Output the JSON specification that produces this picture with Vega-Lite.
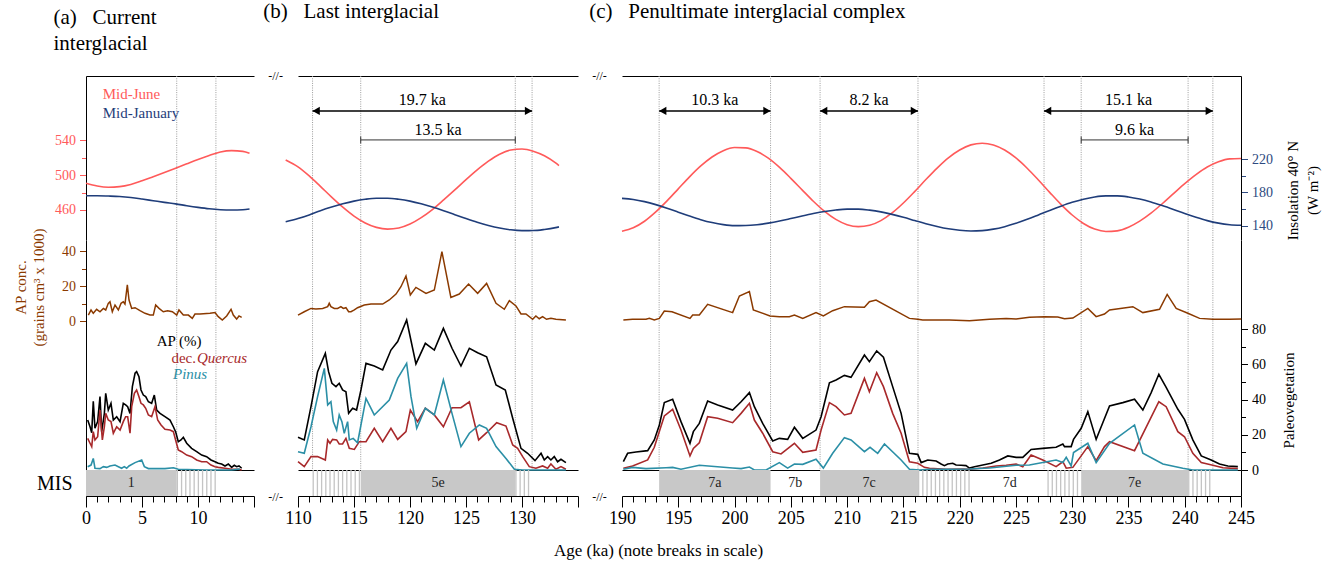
{
"$schema":"https://vega.github.io/schema/vega-lite/v6.json",
"background":"white",
"padding":{"left":13,"top":1,"right":5,"bottom":5},
"config":{"font":"Liberation Serif","view":{"stroke":null},
 "axis":{"grid":false,"domainColor":"#000","domainWidth":1,"tickColor":"#000","tickWidth":1,"labelColor":"#000","titleColor":"#000","labelFont":"Liberation Serif","titleFont":"Liberation Serif","titleFontWeight":"normal"},
 "title":{"font":"Liberation Serif","fontWeight":"normal","color":"#000"},
 "text":{"font":"Liberation Serif","color":"#000"}},
"title":{"text":"Age (ka) (note breaks in scale)","orient":"bottom","anchor":"middle","frame":"bounds","fontSize":17,"offset":16,"dx":-8},
"datasets":{
"bounds":[{"panel":"a","age":8.1},{"panel":"a","age":11.6},{"panel":"b","age":111.3},{"panel":"b","age":115.6},{"panel":"b","age":129.4},{"panel":"b","age":130.9},{"panel":"c","age":193.3},{"panel":"c","age":203.2},{"panel":"c","age":207.6},{"panel":"c","age":216.3},{"panel":"c","age":227.5},{"panel":"c","age":230.8},{"panel":"c","age":240.3},{"panel":"c","age":242.5}],
"arrows":[{"panel":"b","kind":"arrow","age":111.3,"end":130.9,"mid":121.1,"label":"19.7 ka"},{"panel":"b","kind":"bar","age":115.6,"end":129.4,"mid":122.5,"label":"13.5 ka"},{"panel":"c","kind":"arrow","age":193.3,"end":203.2,"mid":198.25,"label":"10.3 ka"},{"panel":"c","kind":"arrow","age":207.6,"end":216.3,"mid":211.95,"label":"8.2 ka"},{"panel":"c","kind":"arrow","age":227.5,"end":242.5,"mid":235.0,"label":"15.1 ka"},{"panel":"c","kind":"bar","age":230.8,"end":240.3,"mid":235.55,"label":"9.6 ka"}],
"mis":[{"panel":"a","kind":"stage","age":0,"end":8.1,"mid":4.05,"label":"1"},{"panel":"a","kind":"hatch","age":8.1,"end":11.6,"mid":9.85,"label":""},
{"panel":"b","kind":"hatch","age":111.3,"end":115.6,"mid":113.45,"label":""},{"panel":"b","kind":"stage","age":115.6,"end":129.4,"mid":122.5,"label":"5e"},{"panel":"b","kind":"hatch","age":129.4,"end":130.9,"mid":130.15,"label":""},
{"panel":"c","kind":"stage","age":193.3,"end":203.2,"mid":198.25,"label":"7a"},{"panel":"c","kind":"white","age":203.2,"end":207.6,"mid":205.4,"label":"7b"},{"panel":"c","kind":"stage","age":207.6,"end":216.3,"mid":211.95,"label":"7c"},{"panel":"c","kind":"hatch","age":216.3,"end":221.1,"mid":218.7,"label":""},{"panel":"c","kind":"white","age":221.1,"end":227.8,"mid":224.45,"label":"7d"},{"panel":"c","kind":"hatch","age":227.8,"end":230.6,"mid":229.2,"label":""},{"panel":"c","kind":"stage","age":230.8,"end":240.3,"mid":235.55,"label":"7e"},{"panel":"c","kind":"hatch","age":240.3,"end":242.5,"mid":241.4,"label":""}],
"insol":[
{"panel":"a","age":0,"june":490.6,"jan":176.0},{"panel":"a","age":1,"june":487.5,"jan":176.0},{"panel":"a","age":2,"june":486.1,"jan":175.6},{"panel":"a","age":3,"june":486.8,"jan":175.0},{"panel":"a","age":4,"june":489.3,"jan":173.8},{"panel":"a","age":5,"june":493.5,"jan":172.0},{"panel":"a","age":6,"june":498.2,"jan":170.0},{"panel":"a","age":7,"june":503.0,"jan":168.0},{"panel":"a","age":8,"june":507.9,"jan":166.2},{"panel":"a","age":9,"june":513.0,"jan":164.0},{"panel":"a","age":10,"june":518.0,"jan":162.0},{"panel":"a","age":11,"june":522.5,"jan":160.3},{"panel":"a","age":12,"june":526.5,"jan":159.2},{"panel":"a","age":13,"june":528.1,"jan":158.8},{"panel":"a","age":14,"june":527.3,"jan":159.2},{"panel":"a","age":14.6,"june":525.1,"jan":160.0},
{"panel":"b","age":108.9,"june":517.4,"jan":144.8},{"panel":"b","age":110,"june":509.5,"jan":148.6},{"panel":"b","age":111,"june":499.1,"jan":153.0},{"panel":"b","age":112,"june":487.1,"jan":158.0},{"panel":"b","age":113,"june":474.8,"jan":162.4},{"panel":"b","age":114,"june":463.2,"jan":166.3},{"panel":"b","age":115,"june":453.0,"jan":169.5},{"panel":"b","age":116,"june":445.1,"jan":171.7},{"panel":"b","age":117,"june":440.0,"jan":172.9},{"panel":"b","age":118,"june":438.0,"jan":172.9},{"panel":"b","age":119,"june":439.3,"jan":171.7},{"panel":"b","age":120,"june":443.8,"jan":169.5},{"panel":"b","age":121,"june":451.2,"jan":166.3},{"panel":"b","age":122,"june":460.5,"jan":162.4},{"panel":"b","age":123,"june":471.5,"jan":158.0},{"panel":"b","age":124,"june":483.0,"jan":153.3},{"panel":"b","age":125,"june":494.8,"jan":148.6},{"panel":"b","age":126,"june":506.0,"jan":144.2},{"panel":"b","age":127,"june":516.0,"jan":140.4},{"panel":"b","age":128,"june":524.0,"jan":137.3},{"panel":"b","age":129,"june":528.8,"jan":135.1},{"panel":"b","age":130,"june":529.9,"jan":134.1},{"panel":"b","age":131,"june":527.5,"jan":134.2},{"panel":"b","age":132,"june":522.2,"jan":135.5},{"panel":"b","age":133,"june":514.0,"jan":137.7},{"panel":"b","age":133.3,"june":511.0,"jan":138.6},
{"panel":"c","age":190,"june":435.5,"jan":172.8},{"panel":"c","age":191,"june":439.5,"jan":171.5},{"panel":"c","age":192,"june":447.0,"jan":168.9},{"panel":"c","age":193,"june":457.7,"jan":165.3},{"panel":"c","age":194,"june":470.4,"jan":161.0},{"panel":"c","age":195,"june":484.2,"jan":156.3},{"panel":"c","age":196,"june":498.0,"jan":151.6},{"panel":"c","age":197,"june":510.5,"jan":147.3},{"panel":"c","age":198,"june":520.8,"jan":143.8},{"panel":"c","age":199,"june":528.1,"jan":141.3},{"panel":"c","age":200,"june":531.7,"jan":140.1},{"panel":"c","age":201,"june":531.3,"jan":140.2},{"panel":"c","age":202,"june":527.1,"jan":141.2},{"panel":"c","age":203,"june":519.4,"jan":143.1},{"panel":"c","age":204,"june":508.8,"jan":145.6},{"panel":"c","age":205,"june":496.3,"jan":148.6},{"panel":"c","age":206,"june":483.1,"jan":151.7},{"panel":"c","age":207,"june":470.0,"jan":154.6},{"panel":"c","age":208,"june":458.4,"jan":157.1},{"panel":"c","age":209,"june":449.2,"jan":158.9},{"panel":"c","age":210,"june":443.1,"jan":159.9},{"panel":"c","age":211,"june":440.8,"jan":159.9},{"panel":"c","age":212,"june":442.4,"jan":158.7},{"panel":"c","age":213,"june":447.8,"jan":156.6},{"panel":"c","age":214,"june":456.6,"jan":153.6},{"panel":"c","age":215,"june":468.0,"jan":150.1},{"panel":"c","age":216,"june":481.1,"jan":146.3},{"panel":"c","age":217,"june":494.9,"jan":142.5},{"panel":"c","age":218,"june":508.1,"jan":139.1},{"panel":"c","age":219,"june":519.8,"jan":136.3},{"panel":"c","age":220,"june":528.8,"jan":134.5},{"panel":"c","age":221,"june":534.7,"jan":133.7},{"panel":"c","age":222,"june":536.6,"jan":134.1},{"panel":"c","age":223,"june":534.6,"jan":135.9},{"panel":"c","age":224,"june":528.8,"jan":138.9},{"panel":"c","age":225,"june":519.7,"jan":142.9},{"panel":"c","age":226,"june":507.9,"jan":147.7},{"panel":"c","age":227,"june":494.4,"jan":153.0},{"panel":"c","age":228,"june":480.2,"jan":158.4},{"panel":"c","age":229,"june":466.4,"jan":163.5},{"panel":"c","age":230,"june":454.2,"jan":168.1},{"panel":"c","age":231,"june":444.5,"jan":171.8},{"panel":"c","age":232,"june":438.0,"jan":174.5},{"panel":"c","age":233,"june":435.2,"jan":175.8},{"panel":"c","age":234,"june":436.0,"jan":175.8},{"panel":"c","age":235,"june":440.1,"jan":174.5},{"panel":"c","age":236,"june":447.1,"jan":172.0},{"panel":"c","age":237,"june":456.3,"jan":168.5},{"panel":"c","age":238,"june":467.1,"jan":164.2},{"panel":"c","age":239,"june":478.7,"jan":159.5},{"panel":"c","age":240,"june":490.2,"jan":154.6},{"panel":"c","age":241,"june":500.6,"jan":150.1},{"panel":"c","age":242,"june":509.3,"jan":146.1},{"panel":"c","age":243,"june":515.3,"jan":143.1},{"panel":"c","age":244,"june":518.6,"jan":141.2},{"panel":"c","age":245,"june":519.0,"jan":140.5}],
"conc":[
{"panel":"a","age":0.21,"conc":3.4},{"panel":"a","age":0.45,"conc":6.3},{"panel":"a","age":0.65,"conc":4.4},{"panel":"a","age":0.95,"conc":6.7},{"panel":"a","age":1.25,"conc":5.3},{"panel":"a","age":1.55,"conc":7.2},{"panel":"a","age":1.76,"conc":6.3},{"panel":"a","age":1.99,"conc":10.1},{"panel":"a","age":2.14,"conc":11.0},{"panel":"a","age":2.35,"conc":5.3},{"panel":"a","age":2.59,"conc":9.1},{"panel":"a","age":2.89,"conc":6.3},{"panel":"a","age":3.13,"conc":10.1},{"panel":"a","age":3.33,"conc":11.0},{"panel":"a","age":3.48,"conc":9.7},{"panel":"a","age":3.69,"conc":20.6},{"panel":"a","age":3.84,"conc":12.0},{"panel":"a","age":4.08,"conc":7.2},{"panel":"a","age":4.38,"conc":7.6},{"panel":"a","age":4.82,"conc":5.9},{"panel":"a","age":5.27,"conc":4.4},{"panel":"a","age":5.71,"conc":3.4},{"panel":"a","age":6.01,"conc":3.4},{"panel":"a","age":6.22,"conc":9.1},{"panel":"a","age":6.52,"conc":7.2},{"panel":"a","age":6.9,"conc":5.3},{"panel":"a","age":7.29,"conc":5.9},{"panel":"a","age":7.71,"conc":5.3},{"panel":"a","age":8.1,"conc":3.4},{"panel":"a","age":8.3,"conc":6.3},{"panel":"a","age":8.69,"conc":3.4},{"panel":"a","age":9.14,"conc":3.4},{"panel":"a","age":9.49,"conc":1.5},{"panel":"a","age":9.73,"conc":4.0},{"panel":"a","age":10.18,"conc":4.0},{"panel":"a","age":11.07,"conc":4.4},{"panel":"a","age":11.52,"conc":4.8},{"panel":"a","age":11.81,"conc":2.5},{"panel":"a","age":12.17,"conc":0.6},{"panel":"a","age":12.56,"conc":2.9},{"panel":"a","age":12.95,"conc":6.7},{"panel":"a","age":13.15,"conc":3.4},{"panel":"a","age":13.45,"conc":1.1},{"panel":"a","age":13.66,"conc":2.9},{"panel":"a","age":13.9,"conc":2.1},
{"panel":"b","age":110.0,"conc":3.4},{"panel":"b","age":110.56,"conc":5.3},{"panel":"b","age":111.16,"conc":7.2},{"panel":"b","age":111.6,"conc":6.9},{"panel":"b","age":112.2,"conc":7.2},{"panel":"b","age":112.65,"conc":8.2},{"panel":"b","age":112.79,"conc":10.1},{"panel":"b","age":112.94,"conc":8.2},{"panel":"b","age":113.24,"conc":7.2},{"panel":"b","age":113.54,"conc":7.2},{"panel":"b","age":113.83,"conc":8.2},{"panel":"b","age":114.04,"conc":7.2},{"panel":"b","age":114.28,"conc":7.6},{"panel":"b","age":114.52,"conc":5.3},{"panel":"b","age":114.73,"conc":5.3},{"panel":"b","age":115.03,"conc":6.3},{"panel":"b","age":115.32,"conc":7.6},{"panel":"b","age":115.92,"conc":9.1},{"panel":"b","age":116.52,"conc":9.7},{"panel":"b","age":117.56,"conc":9.7},{"panel":"b","age":118.15,"conc":12.0},{"panel":"b","age":118.75,"conc":15.4},{"panel":"b","age":119.19,"conc":19.6},{"panel":"b","age":119.64,"conc":25.7},{"panel":"b","age":120.03,"conc":14.9},{"panel":"b","age":120.53,"conc":19.2},{"panel":"b","age":121.43,"conc":15.8},{"panel":"b","age":122.17,"conc":17.7},{"panel":"b","age":122.85,"conc":39.6},{"panel":"b","age":123.65,"conc":13.5},{"panel":"b","age":124.4,"conc":15.4},{"panel":"b","age":125.23,"conc":21.1},{"panel":"b","age":126.04,"conc":15.8},{"panel":"b","age":126.84,"conc":21.5},{"panel":"b","age":127.68,"conc":10.1},{"panel":"b","age":128.42,"conc":6.7},{"panel":"b","age":128.87,"conc":11.6},{"panel":"b","age":129.46,"conc":8.6},{"panel":"b","age":129.91,"conc":4.0},{"panel":"b","age":130.35,"conc":4.0},{"panel":"b","age":130.95,"conc":1.0},{"panel":"b","age":131.24,"conc":2.9},{"panel":"b","age":131.54,"conc":1.3},{"panel":"b","age":131.84,"conc":2.5},{"panel":"b","age":132.19,"conc":1.0},{"panel":"b","age":132.58,"conc":1.5},{"panel":"b","age":133.03,"conc":1.0},{"panel":"b","age":133.92,"conc":0.6},
{"panel":"c","age":190.12,"conc":0.6},{"panel":"c","age":190.94,"conc":1.0},{"panel":"c","age":192.13,"conc":1.0},{"panel":"c","age":192.43,"conc":1.5},{"panel":"c","age":192.87,"conc":0.6},{"panel":"c","age":193.32,"conc":1.5},{"panel":"c","age":193.76,"conc":5.7},{"panel":"c","age":194.44,"conc":5.3},{"panel":"c","age":196.04,"conc":1.5},{"panel":"c","age":196.28,"conc":3.4},{"panel":"c","age":196.87,"conc":3.4},{"panel":"c","age":197.61,"conc":9.5},{"panel":"c","age":199.83,"conc":4.8},{"panel":"c","age":200.43,"conc":14.3},{"panel":"c","age":201.32,"conc":16.8},{"panel":"c","age":201.67,"conc":6.3},{"panel":"c","age":203.15,"conc":2.9},{"panel":"c","age":203.98,"conc":2.5},{"panel":"c","age":204.87,"conc":2.5},{"panel":"c","age":205.32,"conc":3.4},{"panel":"c","age":206.06,"conc":1.5},{"panel":"c","age":207.24,"conc":4.8},{"panel":"c","age":207.89,"conc":2.9},{"panel":"c","age":208.72,"conc":5.9},{"panel":"c","age":209.76,"conc":8.2},{"panel":"c","age":211.54,"conc":7.8},{"panel":"c","age":211.98,"conc":11.0},{"panel":"c","age":212.57,"conc":12.0},{"panel":"c","age":215.54,"conc":1.5},{"panel":"c","age":216.28,"conc":1.0},{"panel":"c","age":216.72,"conc":0.6},{"panel":"c","age":217.61,"conc":0.6},{"panel":"c","age":219.09,"conc":0.6},{"panel":"c","age":220.87,"conc":0.2},{"panel":"c","age":222.65,"conc":1.0},{"panel":"c","age":224.13,"conc":1.5},{"panel":"c","age":225.02,"conc":1.1},{"panel":"c","age":226.2,"conc":2.1},{"panel":"c","age":227.54,"conc":2.5},{"panel":"c","age":228.72,"conc":2.3},{"panel":"c","age":229.32,"conc":1.3},{"panel":"c","age":230.06,"conc":1.7},{"panel":"c","age":231.39,"conc":7.2},{"panel":"c","age":232.13,"conc":2.5},{"panel":"c","age":232.87,"conc":4.0},{"panel":"c","age":233.32,"conc":6.3},{"panel":"c","age":235.39,"conc":8.2},{"panel":"c","age":236.28,"conc":4.8},{"panel":"c","age":237.76,"conc":6.7},{"panel":"c","age":238.44,"conc":15.2},{"panel":"c","age":239.24,"conc":7.2},{"panel":"c","age":240.28,"conc":4.4},{"panel":"c","age":241.32,"conc":1.5},{"panel":"c","age":242.5,"conc":1.0},{"panel":"c","age":243.98,"conc":1.0},{"panel":"c","age":245.02,"conc":1.1}],
"veg":[
{"panel":"a","taxon":"AP","age":0.15,"pct":28.4},{"panel":"a","taxon":"AP","age":0.36,"pct":24.6},{"panel":"a","taxon":"AP","age":0.51,"pct":21.2},{"panel":"a","taxon":"AP","age":0.65,"pct":39.0},{"panel":"a","taxon":"AP","age":0.8,"pct":23.7},{"panel":"a","taxon":"AP","age":1.04,"pct":27.5},{"panel":"a","taxon":"AP","age":1.25,"pct":41.7},{"panel":"a","taxon":"AP","age":1.4,"pct":21.8},{"panel":"a","taxon":"AP","age":1.64,"pct":32.2},{"panel":"a","taxon":"AP","age":1.76,"pct":43.6},{"panel":"a","taxon":"AP","age":1.99,"pct":34.1},{"panel":"a","taxon":"AP","age":2.23,"pct":37.9},{"panel":"a","taxon":"AP","age":2.44,"pct":28.4},{"panel":"a","taxon":"AP","age":2.74,"pct":30.3},{"panel":"a","taxon":"AP","age":3.04,"pct":27.5},{"panel":"a","taxon":"AP","age":3.33,"pct":37.9},{"panel":"a","taxon":"AP","age":3.54,"pct":37.0},{"panel":"a","taxon":"AP","age":3.72,"pct":36.0},{"panel":"a","taxon":"AP","age":3.93,"pct":32.2},{"panel":"a","taxon":"AP","age":4.14,"pct":47.4},{"panel":"a","taxon":"AP","age":4.38,"pct":55.0},{"panel":"a","taxon":"AP","age":4.52,"pct":55.9},{"panel":"a","taxon":"AP","age":4.73,"pct":53.0},{"panel":"a","taxon":"AP","age":4.91,"pct":45.5},{"panel":"a","taxon":"AP","age":5.12,"pct":42.6},{"panel":"a","taxon":"AP","age":5.33,"pct":41.7},{"panel":"a","taxon":"AP","age":5.57,"pct":38.8},{"panel":"a","taxon":"AP","age":5.86,"pct":37.9},{"panel":"a","taxon":"AP","age":6.1,"pct":42.6},{"panel":"a","taxon":"AP","age":6.31,"pct":34.1},{"panel":"a","taxon":"AP","age":6.61,"pct":32.2},{"panel":"a","taxon":"AP","age":7.05,"pct":30.3},{"panel":"a","taxon":"AP","age":7.5,"pct":28.4},{"panel":"a","taxon":"AP","age":7.8,"pct":24.6},{"panel":"a","taxon":"AP","age":8.0,"pct":21.8},{"panel":"a","taxon":"AP","age":8.24,"pct":16.1},{"panel":"a","taxon":"AP","age":8.48,"pct":17.1},{"panel":"a","taxon":"AP","age":8.69,"pct":18.6},{"panel":"a","taxon":"AP","age":8.99,"pct":15.2},{"panel":"a","taxon":"AP","age":9.43,"pct":12.3},{"panel":"a","taxon":"AP","age":9.88,"pct":10.4},{"panel":"a","taxon":"AP","age":10.33,"pct":8.5},{"panel":"a","taxon":"AP","age":10.77,"pct":7.6},{"panel":"a","taxon":"AP","age":11.16,"pct":5.7},{"panel":"a","taxon":"AP","age":11.52,"pct":4.7},{"panel":"a","taxon":"AP","age":11.81,"pct":3.8},{"panel":"a","taxon":"AP","age":12.11,"pct":3.4},{"panel":"a","taxon":"AP","age":12.41,"pct":2.3},{"panel":"a","taxon":"AP","age":12.71,"pct":3.4},{"panel":"a","taxon":"AP","age":13.0,"pct":1.5},{"panel":"a","taxon":"AP","age":13.24,"pct":2.7},{"panel":"a","taxon":"AP","age":13.45,"pct":1.9},{"panel":"a","taxon":"AP","age":13.66,"pct":2.3},{"panel":"a","taxon":"AP","age":13.9,"pct":1.0},
{"panel":"a","taxon":"Quercus","age":0.15,"pct":18.0},{"panel":"a","taxon":"Quercus","age":0.36,"pct":15.2},{"panel":"a","taxon":"Quercus","age":0.51,"pct":13.3},{"panel":"a","taxon":"Quercus","age":0.65,"pct":21.8},{"panel":"a","taxon":"Quercus","age":0.8,"pct":17.1},{"panel":"a","taxon":"Quercus","age":1.04,"pct":18.9},{"panel":"a","taxon":"Quercus","age":1.25,"pct":34.1},{"panel":"a","taxon":"Quercus","age":1.46,"pct":17.1},{"panel":"a","taxon":"Quercus","age":1.64,"pct":24.6},{"panel":"a","taxon":"Quercus","age":1.76,"pct":32.2},{"panel":"a","taxon":"Quercus","age":1.99,"pct":28.4},{"panel":"a","taxon":"Quercus","age":2.23,"pct":27.5},{"panel":"a","taxon":"Quercus","age":2.44,"pct":20.9},{"panel":"a","taxon":"Quercus","age":2.74,"pct":24.6},{"panel":"a","taxon":"Quercus","age":3.04,"pct":22.7},{"panel":"a","taxon":"Quercus","age":3.33,"pct":27.5},{"panel":"a","taxon":"Quercus","age":3.54,"pct":30.3},{"panel":"a","taxon":"Quercus","age":3.72,"pct":30.3},{"panel":"a","taxon":"Quercus","age":3.93,"pct":20.9},{"panel":"a","taxon":"Quercus","age":4.08,"pct":36.0},{"panel":"a","taxon":"Quercus","age":4.32,"pct":43.6},{"panel":"a","taxon":"Quercus","age":4.52,"pct":45.5},{"panel":"a","taxon":"Quercus","age":4.73,"pct":41.7},{"panel":"a","taxon":"Quercus","age":4.91,"pct":37.9},{"panel":"a","taxon":"Quercus","age":5.12,"pct":37.0},{"panel":"a","taxon":"Quercus","age":5.33,"pct":35.1},{"panel":"a","taxon":"Quercus","age":5.57,"pct":31.3},{"panel":"a","taxon":"Quercus","age":5.86,"pct":30.3},{"panel":"a","taxon":"Quercus","age":6.16,"pct":36.0},{"panel":"a","taxon":"Quercus","age":6.4,"pct":28.4},{"panel":"a","taxon":"Quercus","age":6.7,"pct":25.6},{"panel":"a","taxon":"Quercus","age":7.05,"pct":23.1},{"panel":"a","taxon":"Quercus","age":7.5,"pct":22.7},{"panel":"a","taxon":"Quercus","age":7.8,"pct":21.8},{"panel":"a","taxon":"Quercus","age":8.0,"pct":17.1},{"panel":"a","taxon":"Quercus","age":8.24,"pct":11.4},{"panel":"a","taxon":"Quercus","age":8.54,"pct":10.4},{"panel":"a","taxon":"Quercus","age":8.99,"pct":8.5},{"panel":"a","taxon":"Quercus","age":9.43,"pct":7.6},{"panel":"a","taxon":"Quercus","age":9.88,"pct":5.7},{"panel":"a","taxon":"Quercus","age":10.33,"pct":4.7},{"panel":"a","taxon":"Quercus","age":10.77,"pct":4.7},{"panel":"a","taxon":"Quercus","age":11.16,"pct":2.8},{"panel":"a","taxon":"Quercus","age":11.52,"pct":1.9},{"panel":"a","taxon":"Quercus","age":11.81,"pct":1.5},{"panel":"a","taxon":"Quercus","age":12.41,"pct":1.0},{"panel":"a","taxon":"Quercus","age":13.0,"pct":0.4},{"panel":"a","taxon":"Quercus","age":13.6,"pct":0.4},{"panel":"a","taxon":"Quercus","age":13.9,"pct":0.0},
{"panel":"a","taxon":"Pinus","age":0.15,"pct":1.9},{"panel":"a","taxon":"Pinus","age":0.45,"pct":2.8},{"panel":"a","taxon":"Pinus","age":0.65,"pct":6.6},{"panel":"a","taxon":"Pinus","age":0.8,"pct":1.0},{"panel":"a","taxon":"Pinus","age":1.25,"pct":0.8},{"panel":"a","taxon":"Pinus","age":1.55,"pct":1.9},{"panel":"a","taxon":"Pinus","age":1.85,"pct":1.5},{"panel":"a","taxon":"Pinus","age":2.14,"pct":2.3},{"panel":"a","taxon":"Pinus","age":2.59,"pct":2.8},{"panel":"a","taxon":"Pinus","age":2.89,"pct":1.9},{"panel":"a","taxon":"Pinus","age":3.18,"pct":1.0},{"panel":"a","taxon":"Pinus","age":3.42,"pct":1.9},{"panel":"a","taxon":"Pinus","age":3.63,"pct":1.0},{"panel":"a","taxon":"Pinus","age":3.84,"pct":2.3},{"panel":"a","taxon":"Pinus","age":4.38,"pct":4.2},{"panel":"a","taxon":"Pinus","age":4.97,"pct":5.7},{"panel":"a","taxon":"Pinus","age":5.21,"pct":1.9},{"panel":"a","taxon":"Pinus","age":5.57,"pct":0.8},{"panel":"a","taxon":"Pinus","age":7.05,"pct":0.8},{"panel":"a","taxon":"Pinus","age":7.8,"pct":1.3},{"panel":"a","taxon":"Pinus","age":8.24,"pct":0.4},{"panel":"a","taxon":"Pinus","age":10.62,"pct":0.0},{"panel":"a","taxon":"Pinus","age":13.0,"pct":0.0},{"panel":"a","taxon":"Pinus","age":13.75,"pct":0.6},
{"panel":"b","taxon":"AP","age":110.0,"pct":18.6},{"panel":"b","taxon":"AP","age":110.56,"pct":17.1},{"panel":"b","taxon":"AP","age":111.16,"pct":36.0},{"panel":"b","taxon":"AP","age":111.75,"pct":55.9},{"panel":"b","taxon":"AP","age":112.44,"pct":66.3},{"panel":"b","taxon":"AP","age":112.73,"pct":55.9},{"panel":"b","taxon":"AP","age":113.03,"pct":49.3},{"panel":"b","taxon":"AP","age":113.39,"pct":47.4},{"panel":"b","taxon":"AP","age":113.68,"pct":49.3},{"panel":"b","taxon":"AP","age":113.98,"pct":45.5},{"panel":"b","taxon":"AP","age":114.28,"pct":44.5},{"panel":"b","taxon":"AP","age":114.52,"pct":32.2},{"panel":"b","taxon":"AP","age":114.88,"pct":35.1},{"panel":"b","taxon":"AP","age":115.23,"pct":34.1},{"panel":"b","taxon":"AP","age":115.62,"pct":45.5},{"panel":"b","taxon":"AP","age":116.07,"pct":60.6},{"panel":"b","taxon":"AP","age":116.81,"pct":59.1},{"panel":"b","taxon":"AP","age":117.56,"pct":56.9},{"panel":"b","taxon":"AP","age":118.3,"pct":68.2},{"panel":"b","taxon":"AP","age":118.9,"pct":73.0},{"panel":"b","taxon":"AP","age":119.7,"pct":85.3},{"panel":"b","taxon":"AP","age":120.53,"pct":60.3},{"panel":"b","taxon":"AP","age":121.37,"pct":72.0},{"panel":"b","taxon":"AP","age":122.17,"pct":68.2},{"panel":"b","taxon":"AP","age":122.98,"pct":80.5},{"panel":"b","taxon":"AP","age":123.75,"pct":69.2},{"panel":"b","taxon":"AP","age":124.55,"pct":59.1},{"panel":"b","taxon":"AP","age":125.3,"pct":69.2},{"panel":"b","taxon":"AP","age":126.04,"pct":66.7},{"panel":"b","taxon":"AP","age":126.84,"pct":64.4},{"panel":"b","taxon":"AP","age":127.68,"pct":48.3},{"panel":"b","taxon":"AP","age":128.51,"pct":45.5},{"panel":"b","taxon":"AP","age":129.17,"pct":29.4},{"panel":"b","taxon":"AP","age":129.91,"pct":12.3},{"panel":"b","taxon":"AP","age":130.5,"pct":9.5},{"panel":"b","taxon":"AP","age":131.16,"pct":5.3},{"panel":"b","taxon":"AP","age":131.7,"pct":9.5},{"panel":"b","taxon":"AP","age":131.99,"pct":5.7},{"panel":"b","taxon":"AP","age":132.29,"pct":7.6},{"panel":"b","taxon":"AP","age":132.58,"pct":5.7},{"panel":"b","taxon":"AP","age":132.88,"pct":7.6},{"panel":"b","taxon":"AP","age":133.18,"pct":4.7},{"panel":"b","taxon":"AP","age":133.48,"pct":6.1},{"panel":"b","taxon":"AP","age":133.92,"pct":4.2},
{"panel":"b","taxon":"Quercus","age":110.0,"pct":4.7},{"panel":"b","taxon":"Quercus","age":110.56,"pct":1.9},{"panel":"b","taxon":"Quercus","age":111.16,"pct":7.6},{"panel":"b","taxon":"Quercus","age":111.75,"pct":7.6},{"panel":"b","taxon":"Quercus","age":112.44,"pct":5.7},{"panel":"b","taxon":"Quercus","age":112.65,"pct":17.1},{"panel":"b","taxon":"Quercus","age":112.86,"pct":15.2},{"panel":"b","taxon":"Quercus","age":113.09,"pct":17.4},{"panel":"b","taxon":"Quercus","age":113.45,"pct":17.1},{"panel":"b","taxon":"Quercus","age":113.68,"pct":14.8},{"panel":"b","taxon":"Quercus","age":113.98,"pct":14.8},{"panel":"b","taxon":"Quercus","age":114.28,"pct":18.0},{"panel":"b","taxon":"Quercus","age":114.58,"pct":12.3},{"panel":"b","taxon":"Quercus","age":115.03,"pct":11.7},{"panel":"b","taxon":"Quercus","age":115.47,"pct":16.1},{"panel":"b","taxon":"Quercus","age":116.07,"pct":16.1},{"panel":"b","taxon":"Quercus","age":116.81,"pct":23.7},{"panel":"b","taxon":"Quercus","age":117.56,"pct":16.1},{"panel":"b","taxon":"Quercus","age":118.3,"pct":23.7},{"panel":"b","taxon":"Quercus","age":118.9,"pct":17.4},{"panel":"b","taxon":"Quercus","age":119.64,"pct":21.8},{"panel":"b","taxon":"Quercus","age":120.03,"pct":34.1},{"panel":"b","taxon":"Quercus","age":120.68,"pct":27.5},{"panel":"b","taxon":"Quercus","age":121.37,"pct":35.1},{"panel":"b","taxon":"Quercus","age":122.17,"pct":31.3},{"panel":"b","taxon":"Quercus","age":122.98,"pct":24.6},{"panel":"b","taxon":"Quercus","age":123.75,"pct":35.4},{"panel":"b","taxon":"Quercus","age":124.55,"pct":35.4},{"panel":"b","taxon":"Quercus","age":125.3,"pct":38.8},{"panel":"b","taxon":"Quercus","age":126.13,"pct":17.1},{"panel":"b","taxon":"Quercus","age":126.84,"pct":21.2},{"panel":"b","taxon":"Quercus","age":127.74,"pct":26.9},{"panel":"b","taxon":"Quercus","age":128.57,"pct":25.0},{"panel":"b","taxon":"Quercus","age":129.17,"pct":14.2},{"panel":"b","taxon":"Quercus","age":129.61,"pct":12.3},{"panel":"b","taxon":"Quercus","age":130.06,"pct":7.6},{"panel":"b","taxon":"Quercus","age":130.65,"pct":1.9},{"panel":"b","taxon":"Quercus","age":131.24,"pct":1.0},{"panel":"b","taxon":"Quercus","age":131.84,"pct":2.3},{"panel":"b","taxon":"Quercus","age":132.29,"pct":1.0},{"panel":"b","taxon":"Quercus","age":132.58,"pct":3.4},{"panel":"b","taxon":"Quercus","age":133.03,"pct":0.4},{"panel":"b","taxon":"Quercus","age":133.48,"pct":1.9},{"panel":"b","taxon":"Quercus","age":133.92,"pct":0.4},
{"panel":"b","taxon":"Pinus","age":110.0,"pct":10.4},{"panel":"b","taxon":"Pinus","age":110.56,"pct":9.5},{"panel":"b","taxon":"Pinus","age":111.16,"pct":24.6},{"panel":"b","taxon":"Pinus","age":111.75,"pct":41.7},{"panel":"b","taxon":"Pinus","age":112.35,"pct":57.8},{"panel":"b","taxon":"Pinus","age":112.65,"pct":37.0},{"panel":"b","taxon":"Pinus","age":112.94,"pct":38.8},{"panel":"b","taxon":"Pinus","age":113.15,"pct":27.5},{"panel":"b","taxon":"Pinus","age":113.45,"pct":22.7},{"panel":"b","taxon":"Pinus","age":113.68,"pct":31.3},{"panel":"b","taxon":"Pinus","age":113.92,"pct":27.5},{"panel":"b","taxon":"Pinus","age":114.13,"pct":20.9},{"panel":"b","taxon":"Pinus","age":114.43,"pct":27.5},{"panel":"b","taxon":"Pinus","age":114.58,"pct":17.1},{"panel":"b","taxon":"Pinus","age":114.93,"pct":18.0},{"panel":"b","taxon":"Pinus","age":115.32,"pct":15.5},{"panel":"b","taxon":"Pinus","age":116.07,"pct":40.7},{"panel":"b","taxon":"Pinus","age":116.81,"pct":31.3},{"panel":"b","taxon":"Pinus","age":118.15,"pct":39.8},{"panel":"b","taxon":"Pinus","age":118.9,"pct":52.1},{"panel":"b","taxon":"Pinus","age":119.7,"pct":60.6},{"panel":"b","taxon":"Pinus","age":120.09,"pct":41.7},{"panel":"b","taxon":"Pinus","age":120.6,"pct":23.7},{"panel":"b","taxon":"Pinus","age":121.37,"pct":35.1},{"panel":"b","taxon":"Pinus","age":122.17,"pct":31.3},{"panel":"b","taxon":"Pinus","age":122.98,"pct":51.2},{"panel":"b","taxon":"Pinus","age":123.75,"pct":32.2},{"panel":"b","taxon":"Pinus","age":124.55,"pct":13.3},{"panel":"b","taxon":"Pinus","age":125.3,"pct":20.9},{"panel":"b","taxon":"Pinus","age":126.19,"pct":25.6},{"panel":"b","taxon":"Pinus","age":126.84,"pct":23.7},{"panel":"b","taxon":"Pinus","age":127.68,"pct":13.3},{"panel":"b","taxon":"Pinus","age":128.57,"pct":6.6},{"panel":"b","taxon":"Pinus","age":129.32,"pct":0.4},{"panel":"b","taxon":"Pinus","age":130.06,"pct":0.0},{"panel":"b","taxon":"Pinus","age":131.24,"pct":0.0},{"panel":"b","taxon":"Pinus","age":132.43,"pct":0.0},{"panel":"b","taxon":"Pinus","age":133.92,"pct":0.0},
{"panel":"c","taxon":"AP","age":190.12,"pct":4.7},{"panel":"c","taxon":"AP","age":190.5,"pct":9.5},{"panel":"c","taxon":"AP","age":191.24,"pct":10.2},{"panel":"c","taxon":"AP","age":192.28,"pct":11.0},{"panel":"c","taxon":"AP","age":192.87,"pct":17.1},{"panel":"c","taxon":"AP","age":193.32,"pct":25.6},{"panel":"c","taxon":"AP","age":193.76,"pct":38.3},{"panel":"c","taxon":"AP","age":194.5,"pct":40.2},{"panel":"c","taxon":"AP","age":195.24,"pct":27.5},{"panel":"c","taxon":"AP","age":196.04,"pct":15.2},{"panel":"c","taxon":"AP","age":196.34,"pct":21.8},{"panel":"c","taxon":"AP","age":196.87,"pct":26.5},{"panel":"c","taxon":"AP","age":197.61,"pct":39.2},{"panel":"c","taxon":"AP","age":198.5,"pct":37.0},{"panel":"c","taxon":"AP","age":199.83,"pct":34.1},{"panel":"c","taxon":"AP","age":200.58,"pct":38.8},{"panel":"c","taxon":"AP","age":201.32,"pct":44.0},{"panel":"c","taxon":"AP","age":201.76,"pct":36.0},{"panel":"c","taxon":"AP","age":202.5,"pct":26.5},{"panel":"c","taxon":"AP","age":203.39,"pct":16.5},{"panel":"c","taxon":"AP","age":203.98,"pct":18.0},{"panel":"c","taxon":"AP","age":204.72,"pct":17.4},{"panel":"c","taxon":"AP","age":205.32,"pct":24.3},{"panel":"c","taxon":"AP","age":206.06,"pct":18.0},{"panel":"c","taxon":"AP","age":207.24,"pct":22.7},{"panel":"c","taxon":"AP","age":207.69,"pct":30.3},{"panel":"c","taxon":"AP","age":208.43,"pct":49.6},{"panel":"c","taxon":"AP","age":209.02,"pct":51.2},{"panel":"c","taxon":"AP","age":209.76,"pct":53.8},{"panel":"c","taxon":"AP","age":210.35,"pct":52.7},{"panel":"c","taxon":"AP","age":211.54,"pct":65.4},{"panel":"c","taxon":"AP","age":211.98,"pct":61.6},{"panel":"c","taxon":"AP","age":212.63,"pct":67.7},{"panel":"c","taxon":"AP","age":213.23,"pct":64.1},{"panel":"c","taxon":"AP","age":214.05,"pct":47.4},{"panel":"c","taxon":"AP","age":214.8,"pct":32.2},{"panel":"c","taxon":"AP","age":215.54,"pct":9.5},{"panel":"c","taxon":"AP","age":216.28,"pct":8.9},{"panel":"c","taxon":"AP","age":216.58,"pct":4.2},{"panel":"c","taxon":"AP","age":217.17,"pct":5.7},{"panel":"c","taxon":"AP","age":217.91,"pct":5.1},{"panel":"c","taxon":"AP","age":218.35,"pct":3.4},{"panel":"c","taxon":"AP","age":218.65,"pct":2.5},{"panel":"c","taxon":"AP","age":218.94,"pct":3.4},{"panel":"c","taxon":"AP","age":219.39,"pct":3.8},{"panel":"c","taxon":"AP","age":219.68,"pct":2.8},{"panel":"c","taxon":"AP","age":220.13,"pct":2.7},{"panel":"c","taxon":"AP","age":220.57,"pct":2.5},{"panel":"c","taxon":"AP","age":220.87,"pct":1.1},{"panel":"c","taxon":"AP","age":221.32,"pct":1.9},{"panel":"c","taxon":"AP","age":222.06,"pct":2.8},{"panel":"c","taxon":"AP","age":222.8,"pct":3.8},{"panel":"c","taxon":"AP","age":223.54,"pct":5.7},{"panel":"c","taxon":"AP","age":224.28,"pct":8.0},{"panel":"c","taxon":"AP","age":225.02,"pct":7.2},{"panel":"c","taxon":"AP","age":225.61,"pct":7.2},{"panel":"c","taxon":"AP","age":226.35,"pct":11.7},{"panel":"c","taxon":"AP","age":227.39,"pct":12.3},{"panel":"c","taxon":"AP","age":228.57,"pct":12.9},{"panel":"c","taxon":"AP","age":229.17,"pct":14.8},{"panel":"c","taxon":"AP","age":229.32,"pct":13.3},{"panel":"c","taxon":"AP","age":229.91,"pct":13.3},{"panel":"c","taxon":"AP","age":230.12,"pct":17.4},{"panel":"c","taxon":"AP","age":230.8,"pct":23.7},{"panel":"c","taxon":"AP","age":231.39,"pct":33.2},{"panel":"c","taxon":"AP","age":232.13,"pct":17.4},{"panel":"c","taxon":"AP","age":232.72,"pct":26.9},{"panel":"c","taxon":"AP","age":233.32,"pct":36.4},{"panel":"c","taxon":"AP","age":234.5,"pct":38.3},{"panel":"c","taxon":"AP","age":235.54,"pct":40.2},{"panel":"c","taxon":"AP","age":236.28,"pct":34.1},{"panel":"c","taxon":"AP","age":237.02,"pct":44.0},{"panel":"c","taxon":"AP","age":237.7,"pct":54.4},{"panel":"c","taxon":"AP","age":238.35,"pct":47.0},{"panel":"c","taxon":"AP","age":239.39,"pct":34.5},{"panel":"c","taxon":"AP","age":239.98,"pct":28.8},{"panel":"c","taxon":"AP","age":240.72,"pct":17.1},{"panel":"c","taxon":"AP","age":241.47,"pct":8.0},{"panel":"c","taxon":"AP","age":242.35,"pct":5.7},{"panel":"c","taxon":"AP","age":243.09,"pct":3.4},{"panel":"c","taxon":"AP","age":243.83,"pct":2.3},{"panel":"c","taxon":"AP","age":244.72,"pct":1.9},
{"panel":"c","taxon":"Quercus","age":190.12,"pct":1.0},{"panel":"c","taxon":"Quercus","age":190.94,"pct":2.3},{"panel":"c","taxon":"Quercus","age":192.28,"pct":5.7},{"panel":"c","taxon":"Quercus","age":192.87,"pct":12.9},{"panel":"c","taxon":"Quercus","age":193.76,"pct":30.7},{"panel":"c","taxon":"Quercus","age":194.5,"pct":34.5},{"panel":"c","taxon":"Quercus","age":195.24,"pct":22.7},{"panel":"c","taxon":"Quercus","age":196.04,"pct":8.0},{"panel":"c","taxon":"Quercus","age":196.34,"pct":12.3},{"panel":"c","taxon":"Quercus","age":196.87,"pct":15.5},{"panel":"c","taxon":"Quercus","age":197.61,"pct":30.3},{"panel":"c","taxon":"Quercus","age":198.5,"pct":29.4},{"panel":"c","taxon":"Quercus","age":199.83,"pct":26.9},{"panel":"c","taxon":"Quercus","age":200.58,"pct":32.2},{"panel":"c","taxon":"Quercus","age":201.32,"pct":37.9},{"panel":"c","taxon":"Quercus","age":201.76,"pct":28.4},{"panel":"c","taxon":"Quercus","age":202.5,"pct":20.9},{"panel":"c","taxon":"Quercus","age":203.39,"pct":10.4},{"panel":"c","taxon":"Quercus","age":204.13,"pct":9.1},{"panel":"c","taxon":"Quercus","age":205.32,"pct":15.2},{"panel":"c","taxon":"Quercus","age":206.06,"pct":10.0},{"panel":"c","taxon":"Quercus","age":207.24,"pct":11.4},{"panel":"c","taxon":"Quercus","age":207.69,"pct":22.7},{"panel":"c","taxon":"Quercus","age":208.43,"pct":38.3},{"panel":"c","taxon":"Quercus","age":209.02,"pct":36.0},{"panel":"c","taxon":"Quercus","age":209.76,"pct":31.3},{"panel":"c","taxon":"Quercus","age":210.35,"pct":32.2},{"panel":"c","taxon":"Quercus","age":211.54,"pct":52.1},{"panel":"c","taxon":"Quercus","age":211.98,"pct":44.5},{"panel":"c","taxon":"Quercus","age":212.63,"pct":55.3},{"panel":"c","taxon":"Quercus","age":213.23,"pct":47.4},{"panel":"c","taxon":"Quercus","age":214.05,"pct":32.2},{"panel":"c","taxon":"Quercus","age":214.8,"pct":20.9},{"panel":"c","taxon":"Quercus","age":215.54,"pct":4.7},{"panel":"c","taxon":"Quercus","age":216.28,"pct":3.8},{"panel":"c","taxon":"Quercus","age":216.87,"pct":1.5},{"panel":"c","taxon":"Quercus","age":217.32,"pct":1.0},{"panel":"c","taxon":"Quercus","age":218.8,"pct":0.4},{"panel":"c","taxon":"Quercus","age":220.28,"pct":0.6},{"panel":"c","taxon":"Quercus","age":220.87,"pct":0.4},{"panel":"c","taxon":"Quercus","age":222.06,"pct":1.1},{"panel":"c","taxon":"Quercus","age":223.24,"pct":2.3},{"panel":"c","taxon":"Quercus","age":224.13,"pct":2.7},{"panel":"c","taxon":"Quercus","age":225.02,"pct":3.4},{"panel":"c","taxon":"Quercus","age":225.61,"pct":1.9},{"panel":"c","taxon":"Quercus","age":226.35,"pct":8.5},{"panel":"c","taxon":"Quercus","age":227.39,"pct":5.7},{"panel":"c","taxon":"Quercus","age":228.57,"pct":1.9},{"panel":"c","taxon":"Quercus","age":229.17,"pct":4.7},{"panel":"c","taxon":"Quercus","age":229.47,"pct":1.0},{"panel":"c","taxon":"Quercus","age":230.06,"pct":1.5},{"panel":"c","taxon":"Quercus","age":231.39,"pct":13.3},{"panel":"c","taxon":"Quercus","age":232.13,"pct":5.3},{"panel":"c","taxon":"Quercus","age":232.87,"pct":13.3},{"panel":"c","taxon":"Quercus","age":233.32,"pct":16.1},{"panel":"c","taxon":"Quercus","age":235.54,"pct":11.0},{"panel":"c","taxon":"Quercus","age":237.7,"pct":38.8},{"panel":"c","taxon":"Quercus","age":238.35,"pct":36.0},{"panel":"c","taxon":"Quercus","age":239.39,"pct":21.8},{"panel":"c","taxon":"Quercus","age":239.98,"pct":18.9},{"panel":"c","taxon":"Quercus","age":240.72,"pct":9.5},{"panel":"c","taxon":"Quercus","age":241.47,"pct":4.2},{"panel":"c","taxon":"Quercus","age":242.5,"pct":2.7},{"panel":"c","taxon":"Quercus","age":243.39,"pct":1.3},{"panel":"c","taxon":"Quercus","age":244.72,"pct":0.8},
{"panel":"c","taxon":"Pinus","age":190.12,"pct":0.4},{"panel":"c","taxon":"Pinus","age":190.94,"pct":1.5},{"panel":"c","taxon":"Pinus","age":192.13,"pct":0.8},{"panel":"c","taxon":"Pinus","age":193.91,"pct":1.3},{"panel":"c","taxon":"Pinus","age":194.5,"pct":1.5},{"panel":"c","taxon":"Pinus","age":195.24,"pct":0.4},{"panel":"c","taxon":"Pinus","age":196.87,"pct":2.7},{"panel":"c","taxon":"Pinus","age":199.83,"pct":1.1},{"panel":"c","taxon":"Pinus","age":200.58,"pct":0.8},{"panel":"c","taxon":"Pinus","age":201.32,"pct":1.7},{"panel":"c","taxon":"Pinus","age":201.76,"pct":0.0},{"panel":"c","taxon":"Pinus","age":202.8,"pct":0.0},{"panel":"c","taxon":"Pinus","age":203.98,"pct":4.2},{"panel":"c","taxon":"Pinus","age":204.72,"pct":1.1},{"panel":"c","taxon":"Pinus","age":205.32,"pct":3.4},{"panel":"c","taxon":"Pinus","age":206.06,"pct":3.2},{"panel":"c","taxon":"Pinus","age":207.24,"pct":6.1},{"panel":"c","taxon":"Pinus","age":207.89,"pct":1.1},{"panel":"c","taxon":"Pinus","age":208.72,"pct":9.5},{"panel":"c","taxon":"Pinus","age":209.76,"pct":18.4},{"panel":"c","taxon":"Pinus","age":210.35,"pct":17.1},{"panel":"c","taxon":"Pinus","age":211.54,"pct":10.4},{"panel":"c","taxon":"Pinus","age":212.04,"pct":12.9},{"panel":"c","taxon":"Pinus","age":212.72,"pct":9.5},{"panel":"c","taxon":"Pinus","age":213.32,"pct":14.8},{"panel":"c","taxon":"Pinus","age":214.8,"pct":5.7},{"panel":"c","taxon":"Pinus","age":215.54,"pct":0.4},{"panel":"c","taxon":"Pinus","age":216.43,"pct":0.0},{"panel":"c","taxon":"Pinus","age":217.32,"pct":0.4},{"panel":"c","taxon":"Pinus","age":219.09,"pct":0.4},{"panel":"c","taxon":"Pinus","age":220.87,"pct":0.6},{"panel":"c","taxon":"Pinus","age":222.65,"pct":1.1},{"panel":"c","taxon":"Pinus","age":225.02,"pct":2.7},{"panel":"c","taxon":"Pinus","age":226.2,"pct":2.8},{"panel":"c","taxon":"Pinus","age":228.57,"pct":5.7},{"panel":"c","taxon":"Pinus","age":229.17,"pct":4.2},{"panel":"c","taxon":"Pinus","age":229.47,"pct":7.2},{"panel":"c","taxon":"Pinus","age":229.91,"pct":2.3},{"panel":"c","taxon":"Pinus","age":230.12,"pct":9.9},{"panel":"c","taxon":"Pinus","age":231.39,"pct":15.2},{"panel":"c","taxon":"Pinus","age":232.13,"pct":4.2},{"panel":"c","taxon":"Pinus","age":233.32,"pct":15.2},{"panel":"c","taxon":"Pinus","age":235.54,"pct":25.6},{"panel":"c","taxon":"Pinus","age":236.28,"pct":9.5},{"panel":"c","taxon":"Pinus","age":238.06,"pct":3.4},{"panel":"c","taxon":"Pinus","age":239.83,"pct":1.0},{"panel":"c","taxon":"Pinus","age":240.72,"pct":0.0},{"panel":"c","taxon":"Pinus","age":242.5,"pct":0.0},{"panel":"c","taxon":"Pinus","age":244.72,"pct":0.0}]
},
"columns":3,
"spacing":{"row":0,"column":44},
"bounds":"flush",
"concat":[
 {"width":168,"height":164,
  "title":{"text":["(a)\u00a0\u00a0\u00a0Current","\u00a0\u00a0\u00a0\u00a0\u00a0\u00a0\u00a0\u200ainterglacial"],"anchor":"start","fontSize":21,"lineHeight":26,"offset":22,"dx":-1},
  "layer":[
   {"data":{"name":"bounds"},"transform":[{"filter":"datum.panel === 'a'"}],"mark":{"type":"rule","color":"#9b9b9b","strokeWidth":1,"strokeDash":[1,1.3]},
    "encoding":{"x":{"field":"age","type":"quantitative","scale":{"domain":[0,15],"nice":false,"zero":false},"axis":{"orient":"top","labels":false,"ticks":false,"title":null}}}},
   {"data":{"name":"insol"},"transform":[{"filter":"datum.panel === 'a'"}],"mark":{"type":"line","color":"#ff5a5a","strokeWidth":1.6,"interpolate":"monotone"},
    "encoding":{"x":{"field":"age","type":"quantitative","scale":{"domain":[0,15],"nice":false,"zero":false},"axis":{"orient":"top","labels":false,"ticks":false,"title":null}},
     "y":{"field":"june","type":"quantitative","scale":{"domain":[425.5,613.8],"nice":false,"zero":false},
      "axis":{"orient":"left","values":[460,480,500,520,540],"labelExpr":"datum.value % 40 === 20 ? datum.label : ''","tickSize":{"condition":{"test":"datum.value % 40 === 20","value":6.5},"value":4.5},"tickColor":"#ff5a5a","labelColor":"#ff5a5a","labelFontSize":14,"labelPadding":4,"title":null}}}},
   {"data":{"name":"insol"},"transform":[{"filter":"datum.panel === 'a'"}],"mark":{"type":"line","color":"#1f3d7a","strokeWidth":1.6,"interpolate":"monotone"},
    "encoding":{"x":{"field":"age","type":"quantitative","scale":{"domain":[0,15],"nice":false,"zero":false},"axis":{"orient":"top","labels":false,"ticks":false,"title":null}},
     "y":{"field":"jan","type":"quantitative","scale":{"domain":[122.9,319.5],"nice":false,"zero":false},"axis":null}}},
   {"data":{"values":[{}]},"mark":{"type":"text","align":"left","baseline":"alphabetic","fontSize":15,"color":"#ff5a5a"},
    "encoding":{"x":{"datum":1.49,"type":"quantitative","scale":{"domain":[0,15],"nice":false,"zero":false},"axis":{"orient":"top","labels":false,"ticks":false,"title":null}},
     "y":{"datum":587.4,"type":"quantitative","scale":{"domain":[425.5,613.8],"nice":false,"zero":false},"axis":null},"text":{"value":"Mid-June"}}},
   {"data":{"values":[{}]},"mark":{"type":"text","align":"left","baseline":"alphabetic","fontSize":15,"color":"#1f3d7a"},
    "encoding":{"x":{"datum":1.49,"type":"quantitative","scale":{"domain":[0,15],"nice":false,"zero":false},"axis":{"orient":"top","labels":false,"ticks":false,"title":null}},
     "y":{"datum":565.6,"type":"quantitative","scale":{"domain":[425.5,613.8],"nice":false,"zero":false},"axis":null},"text":{"value":"Mid-January"}}}
  ],
  "resolve":{"scale":{"y":"independent"}}},
 {"width":280,"height":164,
  "title":{"text":"(b)\u00a0\u00a0\u00a0Last interglacial","anchor":"start","fontSize":21,"offset":48,"dx":-5},
  "layer":[
   {"data":{"name":"bounds"},"transform":[{"filter":"datum.panel === 'b'"}],"mark":{"type":"rule","color":"#9b9b9b","strokeWidth":1,"strokeDash":[1,1.3]},
    "encoding":{"x":{"field":"age","type":"quantitative","scale":{"domain":[110,135],"nice":false,"zero":false},"axis":{"orient":"top","labels":false,"ticks":false,"title":null}}}},
   {"data":{"name":"insol"},"transform":[{"filter":"datum.panel === 'b'"}],"mark":{"type":"line","color":"#ff5a5a","strokeWidth":1.6,"interpolate":"monotone"},
    "encoding":{"x":{"field":"age","type":"quantitative","scale":{"domain":[110,135],"nice":false,"zero":false},"axis":{"orient":"top","labels":false,"ticks":false,"title":null}},
     "y":{"field":"june","type":"quantitative","scale":{"domain":[425.5,613.8],"nice":false,"zero":false},"axis":null}}},
   {"data":{"name":"insol"},"transform":[{"filter":"datum.panel === 'b'"}],"mark":{"type":"line","color":"#1f3d7a","strokeWidth":1.6,"interpolate":"monotone"},
    "encoding":{"x":{"field":"age","type":"quantitative","scale":{"domain":[110,135],"nice":false,"zero":false},"axis":{"orient":"top","labels":false,"ticks":false,"title":null}},
     "y":{"field":"jan","type":"quantitative","scale":{"domain":[122.9,319.5],"nice":false,"zero":false},"axis":null}}},
   {"data":{"name":"arrows"},"transform":[{"filter":"datum.panel === 'b' && datum.kind === 'arrow'"}],"mark":{"type":"rule","color":"#000","strokeWidth":1.5},
    "encoding":{"x":{"field":"age","type":"quantitative","scale":{"domain":[110,135],"nice":false,"zero":false},"axis":{"orient":"top","labels":false,"ticks":false,"title":null}},"x2":{"field":"end"},
     "y":{"datum":573.7,"type":"quantitative","scale":{"domain":[425.5,613.8],"nice":false,"zero":false},"axis":null}}},
   {"data":{"name":"arrows"},"transform":[{"filter":"datum.panel === 'b' && datum.kind === 'arrow'"}],"mark":{"type":"point","shape":"triangle-left","filled":true,"color":"#000","opacity":1,"size":70,"xOffset":3.6},
    "encoding":{"x":{"field":"age","type":"quantitative","scale":{"domain":[110,135],"nice":false,"zero":false},"axis":{"orient":"top","labels":false,"ticks":false,"title":null}},
     "y":{"datum":573.7,"type":"quantitative","scale":{"domain":[425.5,613.8],"nice":false,"zero":false},"axis":null}}},
   {"data":{"name":"arrows"},"transform":[{"filter":"datum.panel === 'b' && datum.kind === 'arrow'"}],"mark":{"type":"point","shape":"triangle-right","filled":true,"color":"#000","opacity":1,"size":70,"xOffset":-3.6},
    "encoding":{"x":{"field":"end","type":"quantitative","scale":{"domain":[110,135],"nice":false,"zero":false},"axis":{"orient":"top","labels":false,"ticks":false,"title":null}},
     "y":{"datum":573.7,"type":"quantitative","scale":{"domain":[425.5,613.8],"nice":false,"zero":false},"axis":null}}},
   {"data":{"name":"arrows"},"transform":[{"filter":"datum.panel === 'b' && datum.kind === 'bar'"}],"mark":{"type":"rule","color":"#333","strokeWidth":1},
    "encoding":{"x":{"field":"age","type":"quantitative","scale":{"domain":[110,135],"nice":false,"zero":false},"axis":{"orient":"top","labels":false,"ticks":false,"title":null}},"x2":{"field":"end"},
     "y":{"datum":540.4,"type":"quantitative","scale":{"domain":[425.5,613.8],"nice":false,"zero":false},"axis":null}}},
   {"data":{"name":"arrows"},"transform":[{"filter":"datum.panel === 'b' && datum.kind === 'bar'"}],"mark":{"type":"tick","orient":"vertical","size":7,"thickness":1,"color":"#333","opacity":1},
    "encoding":{"x":{"field":"age","type":"quantitative","scale":{"domain":[110,135],"nice":false,"zero":false},"axis":{"orient":"top","labels":false,"ticks":false,"title":null}},
     "y":{"datum":540.4,"type":"quantitative","scale":{"domain":[425.5,613.8],"nice":false,"zero":false},"axis":null}}},
   {"data":{"name":"arrows"},"transform":[{"filter":"datum.panel === 'b' && datum.kind === 'bar'"}],"mark":{"type":"tick","orient":"vertical","size":7,"thickness":1,"color":"#333","opacity":1},
    "encoding":{"x":{"field":"end","type":"quantitative","scale":{"domain":[110,135],"nice":false,"zero":false},"axis":{"orient":"top","labels":false,"ticks":false,"title":null}},
     "y":{"datum":540.4,"type":"quantitative","scale":{"domain":[425.5,613.8],"nice":false,"zero":false},"axis":null}}},
   {"data":{"name":"arrows"},"transform":[{"filter":"datum.panel === 'b' && datum.kind === 'arrow'"}],"mark":{"type":"text","fontSize":16,"align":"center","baseline":"alphabetic"},
    "encoding":{"x":{"field":"mid","type":"quantitative","scale":{"domain":[110,135],"nice":false,"zero":false},"axis":{"orient":"top","labels":false,"ticks":false,"title":null}},
     "y":{"datum":580.5,"type":"quantitative","scale":{"domain":[425.5,613.8],"nice":false,"zero":false},"axis":null},"text":{"field":"label"}}},
   {"data":{"name":"arrows"},"transform":[{"filter":"datum.panel === 'b' && datum.kind === 'bar'"}],"mark":{"type":"text","fontSize":16,"align":"center","baseline":"alphabetic"},
    "encoding":{"x":{"field":"mid","type":"quantitative","scale":{"domain":[110,135],"nice":false,"zero":false},"axis":{"orient":"top","labels":false,"ticks":false,"title":null}},
     "y":{"datum":546.1,"type":"quantitative","scale":{"domain":[425.5,613.8],"nice":false,"zero":false},"axis":null},"text":{"field":"label"}}},
   {"data":{"values":[{}]},"mark":{"type":"text","fontSize":12,"align":"center","baseline":"middle"},
    "encoding":{"x":{"datum":108,"type":"quantitative","scale":{"domain":[110,135],"nice":false,"zero":false},"axis":{"orient":"top","labels":false,"ticks":false,"title":null}},
     "y":{"datum":613.8,"type":"quantitative","scale":{"domain":[425.5,613.8],"nice":false,"zero":false},"axis":null},"text":{"value":"-//-"}}}
  ],
  "resolve":{"scale":{"y":"independent"}}},
 {"width":619,"height":164,
  "title":{"text":"(c)\u00a0\u00a0\u00a0Penultimate interglacial complex","anchor":"start","fontSize":21,"offset":48,"dx":-3},
  "layer":[
   {"data":{"name":"bounds"},"transform":[{"filter":"datum.panel === 'c'"}],"mark":{"type":"rule","color":"#9b9b9b","strokeWidth":1,"strokeDash":[1,1.3]},
    "encoding":{"x":{"field":"age","type":"quantitative","scale":{"domain":[190,245],"nice":false,"zero":false},"axis":{"orient":"top","labels":false,"ticks":false,"title":null}}}},
   {"data":{"name":"insol"},"transform":[{"filter":"datum.panel === 'c'"}],"mark":{"type":"line","color":"#ff5a5a","strokeWidth":1.6,"interpolate":"monotone"},
    "encoding":{"x":{"field":"age","type":"quantitative","scale":{"domain":[190,245],"nice":false,"zero":false},"axis":{"orient":"top","labels":false,"ticks":false,"title":null}},
     "y":{"field":"june","type":"quantitative","scale":{"domain":[425.5,613.8],"nice":false,"zero":false},"axis":null}}},
   {"data":{"name":"insol"},"transform":[{"filter":"datum.panel === 'c'"}],"mark":{"type":"line","color":"#1f3d7a","strokeWidth":1.6,"interpolate":"monotone"},
    "encoding":{"x":{"field":"age","type":"quantitative","scale":{"domain":[190,245],"nice":false,"zero":false},"axis":{"orient":"top","labels":false,"ticks":false,"title":null}},
     "y":{"field":"jan","type":"quantitative","scale":{"domain":[122.9,319.5],"nice":false,"zero":false},
      "axis":{"orient":"right","values":[140,160,180,200,220],"labelExpr":"datum.value % 40 === 20 ? datum.label : ''","tickSize":{"condition":{"test":"datum.value % 40 === 20","value":6.5},"value":4.5},"tickColor":"#2d4a80","labelColor":"#2d4a80","labelFontSize":14,"labelPadding":4,
       "title":["Insolation 40\u00b0 N","(W m\u207b\u00b2)"],"titleAngle":-90,"titleX":56,"titleY":114,"titleAlign":"center","titleBaseline":"alphabetic","titleFontSize":15,"titleLineHeight":20,"titleColor":"#000"}}}},
   {"data":{"name":"arrows"},"transform":[{"filter":"datum.panel === 'c' && datum.kind === 'arrow'"}],"mark":{"type":"rule","color":"#000","strokeWidth":1.5},
    "encoding":{"x":{"field":"age","type":"quantitative","scale":{"domain":[190,245],"nice":false,"zero":false},"axis":{"orient":"top","labels":false,"ticks":false,"title":null}},"x2":{"field":"end"},
     "y":{"datum":573.7,"type":"quantitative","scale":{"domain":[425.5,613.8],"nice":false,"zero":false},"axis":null}}},
   {"data":{"name":"arrows"},"transform":[{"filter":"datum.panel === 'c' && datum.kind === 'arrow'"}],"mark":{"type":"point","shape":"triangle-left","filled":true,"color":"#000","opacity":1,"size":70,"xOffset":3.6},
    "encoding":{"x":{"field":"age","type":"quantitative","scale":{"domain":[190,245],"nice":false,"zero":false},"axis":{"orient":"top","labels":false,"ticks":false,"title":null}},
     "y":{"datum":573.7,"type":"quantitative","scale":{"domain":[425.5,613.8],"nice":false,"zero":false},"axis":null}}},
   {"data":{"name":"arrows"},"transform":[{"filter":"datum.panel === 'c' && datum.kind === 'arrow'"}],"mark":{"type":"point","shape":"triangle-right","filled":true,"color":"#000","opacity":1,"size":70,"xOffset":-3.6},
    "encoding":{"x":{"field":"end","type":"quantitative","scale":{"domain":[190,245],"nice":false,"zero":false},"axis":{"orient":"top","labels":false,"ticks":false,"title":null}},
     "y":{"datum":573.7,"type":"quantitative","scale":{"domain":[425.5,613.8],"nice":false,"zero":false},"axis":null}}},
   {"data":{"name":"arrows"},"transform":[{"filter":"datum.panel === 'c' && datum.kind === 'bar'"}],"mark":{"type":"rule","color":"#333","strokeWidth":1},
    "encoding":{"x":{"field":"age","type":"quantitative","scale":{"domain":[190,245],"nice":false,"zero":false},"axis":{"orient":"top","labels":false,"ticks":false,"title":null}},"x2":{"field":"end"},
     "y":{"datum":540.4,"type":"quantitative","scale":{"domain":[425.5,613.8],"nice":false,"zero":false},"axis":null}}},
   {"data":{"name":"arrows"},"transform":[{"filter":"datum.panel === 'c' && datum.kind === 'bar'"}],"mark":{"type":"tick","orient":"vertical","size":7,"thickness":1,"color":"#333","opacity":1},
    "encoding":{"x":{"field":"age","type":"quantitative","scale":{"domain":[190,245],"nice":false,"zero":false},"axis":{"orient":"top","labels":false,"ticks":false,"title":null}},
     "y":{"datum":540.4,"type":"quantitative","scale":{"domain":[425.5,613.8],"nice":false,"zero":false},"axis":null}}},
   {"data":{"name":"arrows"},"transform":[{"filter":"datum.panel === 'c' && datum.kind === 'bar'"}],"mark":{"type":"tick","orient":"vertical","size":7,"thickness":1,"color":"#333","opacity":1},
    "encoding":{"x":{"field":"end","type":"quantitative","scale":{"domain":[190,245],"nice":false,"zero":false},"axis":{"orient":"top","labels":false,"ticks":false,"title":null}},
     "y":{"datum":540.4,"type":"quantitative","scale":{"domain":[425.5,613.8],"nice":false,"zero":false},"axis":null}}},
   {"data":{"name":"arrows"},"transform":[{"filter":"datum.panel === 'c' && datum.kind === 'arrow'"}],"mark":{"type":"text","fontSize":16,"align":"center","baseline":"alphabetic"},
    "encoding":{"x":{"field":"mid","type":"quantitative","scale":{"domain":[190,245],"nice":false,"zero":false},"axis":{"orient":"top","labels":false,"ticks":false,"title":null}},
     "y":{"datum":580.5,"type":"quantitative","scale":{"domain":[425.5,613.8],"nice":false,"zero":false},"axis":null},"text":{"field":"label"}}},
   {"data":{"name":"arrows"},"transform":[{"filter":"datum.panel === 'c' && datum.kind === 'bar'"}],"mark":{"type":"text","fontSize":16,"align":"center","baseline":"alphabetic"},
    "encoding":{"x":{"field":"mid","type":"quantitative","scale":{"domain":[190,245],"nice":false,"zero":false},"axis":{"orient":"top","labels":false,"ticks":false,"title":null}},
     "y":{"datum":546.1,"type":"quantitative","scale":{"domain":[425.5,613.8],"nice":false,"zero":false},"axis":null},"text":{"field":"label"}}},
   {"data":{"values":[{}]},"mark":{"type":"text","fontSize":12,"align":"center","baseline":"middle"},
    "encoding":{"x":{"datum":188,"type":"quantitative","scale":{"domain":[190,245],"nice":false,"zero":false},"axis":{"orient":"top","labels":false,"ticks":false,"title":null}},
     "y":{"datum":613.8,"type":"quantitative","scale":{"domain":[425.5,613.8],"nice":false,"zero":false},"axis":null},"text":{"value":"-//-"}}}
  ],
  "resolve":{"scale":{"y":"independent"}}},
 {"width":168,"height":230,
  "layer":[
   {"data":{"name":"bounds"},"transform":[{"filter":"datum.panel === 'a'"}],"mark":{"type":"rule","color":"#9b9b9b","strokeWidth":1,"strokeDash":[1,1.3]},
    "encoding":{"x":{"field":"age","type":"quantitative","scale":{"domain":[0,15],"nice":false,"zero":false},"axis":{"orient":"bottom","labels":false,"ticks":false,"title":null}}}},
   {"data":{"name":"conc"},"transform":[{"filter":"datum.panel === 'a'"}],"mark":{"type":"line","color":"#8b3a00","strokeWidth":1.5},
    "encoding":{"x":{"field":"age","type":"quantitative","scale":{"domain":[0,15],"nice":false,"zero":false},"axis":{"orient":"bottom","labels":false,"ticks":false,"title":null}},
     "y":{"field":"conc","type":"quantitative","scale":{"domain":[-85.14,46.29],"nice":false,"zero":false},
      "axis":{"orient":"left","values":[0,10,20,30,40],"labelExpr":"datum.value % 20 === 0 ? datum.label : ''","tickSize":{"condition":{"test":"datum.value % 20 === 0","value":6.5},"value":4.5},"tickColor":"#8b3a00","labelColor":"#8b3a00","labelFontSize":14,"labelPadding":4,
       "title":["AP conc.","(grains cm\u00b3 x 1000)"],"titleAngle":-90,"titleX":-61,"titleY":47,"titleAlign":"center","titleBaseline":"alphabetic","titleFontSize":15,"titleLineHeight":18,"titleColor":"#8b3a00"}}}},
   {"data":{"name":"veg"},"transform":[{"filter":"datum.panel === 'a'"}],"mark":{"type":"line","strokeWidth":1.6},
    "encoding":{"x":{"field":"age","type":"quantitative","scale":{"domain":[0,15],"nice":false,"zero":false},"axis":{"orient":"bottom","labels":false,"ticks":false,"title":null}},
     "y":{"field":"pct","type":"quantitative","scale":{"domain":[0,130.76],"nice":false,"zero":false},"axis":null},
     "color":{"field":"taxon","type":"nominal","scale":{"domain":["Pinus","Quercus","AP"],"range":["#2b8fa6","#a8292b","#000000"]},"legend":null}}},
   {"data":{"values":[{}]},"mark":{"type":"text","align":"left","baseline":"alphabetic","fontSize":15,"color":"#000000"},
    "encoding":{"x":{"datum":6.31,"type":"quantitative","scale":{"domain":[0,15],"nice":false,"zero":false},"axis":{"orient":"bottom","labels":false,"ticks":false,"title":null}},
     "y":{"datum":70.5,"type":"quantitative","scale":{"domain":[0,130.76],"nice":false,"zero":false},"axis":null},"text":{"value":"AP (%)"}}},
   {"data":{"values":[{}]},"mark":{"type":"text","align":"left","baseline":"alphabetic","fontSize":15,"color":"#a8292b"},
    "encoding":{"x":{"datum":7.63,"type":"quantitative","scale":{"domain":[0,15],"nice":false,"zero":false},"axis":{"orient":"bottom","labels":false,"ticks":false,"title":null}},
     "y":{"datum":60.7,"type":"quantitative","scale":{"domain":[0,130.76],"nice":false,"zero":false},"axis":null},"text":{"value":"dec."}}},
   {"data":{"values":[{}]},"mark":{"type":"text","align":"left","baseline":"alphabetic","fontSize":15,"fontStyle":"italic","color":"#a8292b"},
    "encoding":{"x":{"datum":9.9,"type":"quantitative","scale":{"domain":[0,15],"nice":false,"zero":false},"axis":{"orient":"bottom","labels":false,"ticks":false,"title":null}},
     "y":{"datum":60.7,"type":"quantitative","scale":{"domain":[0,130.76],"nice":false,"zero":false},"axis":null},"text":{"value":"Quercus"}}},
   {"data":{"values":[{}]},"mark":{"type":"text","align":"left","baseline":"alphabetic","fontSize":15,"fontStyle":"italic","color":"#2b8fa6"},
    "encoding":{"x":{"datum":7.77,"type":"quantitative","scale":{"domain":[0,15],"nice":false,"zero":false},"axis":{"orient":"bottom","labels":false,"ticks":false,"title":null}},
     "y":{"datum":51.6,"type":"quantitative","scale":{"domain":[0,130.76],"nice":false,"zero":false},"axis":null},"text":{"value":"Pinus"}}}
  ],
  "resolve":{"scale":{"y":"independent"}}},
 {"width":280,"height":230,
  "layer":[
   {"data":{"name":"bounds"},"transform":[{"filter":"datum.panel === 'b'"}],"mark":{"type":"rule","color":"#9b9b9b","strokeWidth":1,"strokeDash":[1,1.3]},
    "encoding":{"x":{"field":"age","type":"quantitative","scale":{"domain":[110,135],"nice":false,"zero":false},"axis":{"orient":"bottom","labels":false,"ticks":false,"title":null}}}},
   {"data":{"name":"conc"},"transform":[{"filter":"datum.panel === 'b'"}],"mark":{"type":"line","color":"#8b3a00","strokeWidth":1.5},
    "encoding":{"x":{"field":"age","type":"quantitative","scale":{"domain":[110,135],"nice":false,"zero":false},"axis":{"orient":"bottom","labels":false,"ticks":false,"title":null}},
     "y":{"field":"conc","type":"quantitative","scale":{"domain":[-85.14,46.29],"nice":false,"zero":false},"axis":null}}},
   {"data":{"name":"veg"},"transform":[{"filter":"datum.panel === 'b'"}],"mark":{"type":"line","strokeWidth":1.6},
    "encoding":{"x":{"field":"age","type":"quantitative","scale":{"domain":[110,135],"nice":false,"zero":false},"axis":{"orient":"bottom","labels":false,"ticks":false,"title":null}},
     "y":{"field":"pct","type":"quantitative","scale":{"domain":[0,130.76],"nice":false,"zero":false},"axis":null},
     "color":{"field":"taxon","type":"nominal","scale":{"domain":["Pinus","Quercus","AP"],"range":["#2b8fa6","#a8292b","#000000"]},"legend":null}}}
  ],
  "resolve":{"scale":{"y":"independent"}}},
 {"width":619,"height":230,
  "layer":[
   {"data":{"name":"bounds"},"transform":[{"filter":"datum.panel === 'c'"}],"mark":{"type":"rule","color":"#9b9b9b","strokeWidth":1,"strokeDash":[1,1.3]},
    "encoding":{"x":{"field":"age","type":"quantitative","scale":{"domain":[190,245],"nice":false,"zero":false},"axis":{"orient":"bottom","labels":false,"ticks":false,"title":null}}}},
   {"data":{"name":"conc"},"transform":[{"filter":"datum.panel === 'c'"}],"mark":{"type":"line","color":"#8b3a00","strokeWidth":1.5},
    "encoding":{"x":{"field":"age","type":"quantitative","scale":{"domain":[190,245],"nice":false,"zero":false},"axis":{"orient":"bottom","labels":false,"ticks":false,"title":null}},
     "y":{"field":"conc","type":"quantitative","scale":{"domain":[-85.14,46.29],"nice":false,"zero":false},"axis":null}}},
   {"data":{"name":"veg"},"transform":[{"filter":"datum.panel === 'c'"}],"mark":{"type":"line","strokeWidth":1.6},
    "encoding":{"x":{"field":"age","type":"quantitative","scale":{"domain":[190,245],"nice":false,"zero":false},"axis":{"orient":"bottom","labels":false,"ticks":false,"title":null}},
     "y":{"field":"pct","type":"quantitative","scale":{"domain":[0,130.76],"nice":false,"zero":false},
      "axis":{"orient":"right","values":[0,10,20,30,40,50,60,70,80],"labelExpr":"datum.value % 20 === 0 ? datum.label : ''","tickSize":{"condition":{"test":"datum.value % 20 === 0","value":6.5},"value":4.5},"labelFontSize":14,"labelPadding":4,
       "title":"Paleovegetation","titleAngle":-90,"titleX":52,"titleY":160,"titleAlign":"center","titleBaseline":"alphabetic","titleFontSize":15}},
     "color":{"field":"taxon","type":"nominal","scale":{"domain":["Pinus","Quercus","AP"],"range":["#2b8fa6","#a8292b","#000000"]},"legend":null}}}
  ],
  "resolve":{"scale":{"y":"independent"}}},
 {"width":168,"height":26,
  "layer":[
   {"data":{"name":"mis"},"transform":[{"filter":"datum.panel === 'a' && datum.kind === 'stage'"}],"mark":{"type":"rect","color":"#c8c8c8"},
    "encoding":{"x":{"field":"age","type":"quantitative","scale":{"domain":[0,15],"nice":false,"zero":false},"axis":{"orient":"bottom","values":[0,1,2,3,4,5,6,7,8,9,10,11,12,13,14,15],"labelExpr":"datum.value % 5 === 0 && datum.value <= 10 ? datum.label : ''","tickSize":{"condition":{"test":"datum.value % 5 === 0","value":11},"value":6},"labelFontSize":18,"labelPadding":2,"labelFlush":false,"labelOverlap":false,"title":null}},
     "x2":{"field":"end"},"y":{"datum":0,"type":"quantitative","scale":{"domain":[0,1]},"axis":{"orient":"left","labels":false,"ticks":false,"title":null}},"y2":{"datum":1}}},
   {"data":{"name":"mis"},"transform":[{"filter":"datum.panel === 'a' && datum.kind === 'hatch'"}],"mark":{"type":"rule","color":"#c4c4c4","strokeWidth":26,"strokeDash":[1.3,2.9]},
    "encoding":{"x":{"field":"age","type":"quantitative","scale":{"domain":[0,15],"nice":false,"zero":false},"axis":{"orient":"bottom","values":[0,1,2,3,4,5,6,7,8,9,10,11,12,13,14,15],"labelExpr":"datum.value % 5 === 0 && datum.value <= 10 ? datum.label : ''","tickSize":{"condition":{"test":"datum.value % 5 === 0","value":11},"value":6},"labelFontSize":18,"labelPadding":2,"labelFlush":false,"labelOverlap":false,"title":null}},
     "x2":{"field":"end"},"y":{"datum":0.5,"type":"quantitative","scale":{"domain":[0,1]},"axis":{"orient":"left","labels":false,"ticks":false,"title":null}}}},
   {"data":{"name":"mis"},"transform":[{"filter":"datum.panel === 'a' && datum.label !== ''"}],"mark":{"type":"text","fontSize":14,"baseline":"middle","align":"center","color":"#222"},
    "encoding":{"x":{"field":"mid","type":"quantitative","scale":{"domain":[0,15],"nice":false,"zero":false},"axis":{"orient":"bottom","values":[0,1,2,3,4,5,6,7,8,9,10,11,12,13,14,15],"labelExpr":"datum.value % 5 === 0 && datum.value <= 10 ? datum.label : ''","tickSize":{"condition":{"test":"datum.value % 5 === 0","value":11},"value":6},"labelFontSize":18,"labelPadding":2,"labelFlush":false,"labelOverlap":false,"title":null}},
     "y":{"datum":0.5,"type":"quantitative","scale":{"domain":[0,1]},"axis":{"orient":"left","labels":false,"ticks":false,"title":null}},"text":{"field":"label"}}},
   {"data":{"values":[{"name":"MIS"}]},"mark":{"type":"text","fontSize":20,"baseline":"middle","align":"right"},
    "encoding":{"x":{"datum":-1.2,"type":"quantitative","scale":{"domain":[0,15],"nice":false,"zero":false},"axis":{"orient":"bottom","values":[0,1,2,3,4,5,6,7,8,9,10,11,12,13,14,15],"labelExpr":"datum.value % 5 === 0 && datum.value <= 10 ? datum.label : ''","tickSize":{"condition":{"test":"datum.value % 5 === 0","value":11},"value":6},"labelFontSize":18,"labelPadding":2,"labelFlush":false,"labelOverlap":false,"title":null}},
     "y":{"datum":0.45,"type":"quantitative","scale":{"domain":[0,1]},"axis":{"orient":"left","labels":false,"ticks":false,"title":null}},"text":{"field":"name"}}}
  ]},
 {"width":280,"height":26,
  "layer":[
   {"data":{"name":"mis"},"transform":[{"filter":"datum.panel === 'b' && datum.kind === 'stage'"}],"mark":{"type":"rect","color":"#c8c8c8"},
    "encoding":{"x":{"field":"age","type":"quantitative","scale":{"domain":[110,135],"nice":false,"zero":false},"axis":{"orient":"bottom","values":[110,111,112,113,114,115,116,117,118,119,120,121,122,123,124,125,126,127,128,129,130,131,132,133,134,135],"labelExpr":"datum.value % 5 === 0 && datum.value <= 130 ? datum.label : ''","tickSize":{"condition":{"test":"datum.value % 5 === 0","value":11},"value":6},"labelFontSize":18,"labelPadding":2,"labelFlush":false,"labelOverlap":false,"title":null}},
     "x2":{"field":"end"},"y":{"datum":0,"type":"quantitative","scale":{"domain":[0,1]},"axis":null},"y2":{"datum":1}}},
   {"data":{"name":"mis"},"transform":[{"filter":"datum.panel === 'b' && datum.kind === 'hatch'"}],"mark":{"type":"rule","color":"#c4c4c4","strokeWidth":26,"strokeDash":[1.3,2.9]},
    "encoding":{"x":{"field":"age","type":"quantitative","scale":{"domain":[110,135],"nice":false,"zero":false},"axis":{"orient":"bottom","values":[110,111,112,113,114,115,116,117,118,119,120,121,122,123,124,125,126,127,128,129,130,131,132,133,134,135],"labelExpr":"datum.value % 5 === 0 && datum.value <= 130 ? datum.label : ''","tickSize":{"condition":{"test":"datum.value % 5 === 0","value":11},"value":6},"labelFontSize":18,"labelPadding":2,"labelFlush":false,"labelOverlap":false,"title":null}},
     "x2":{"field":"end"},"y":{"datum":0.5,"type":"quantitative","scale":{"domain":[0,1]},"axis":null}}},
   {"data":{"name":"mis"},"transform":[{"filter":"datum.panel === 'b' && datum.label !== ''"}],"mark":{"type":"text","fontSize":14,"baseline":"middle","align":"center","color":"#222"},
    "encoding":{"x":{"field":"mid","type":"quantitative","scale":{"domain":[110,135],"nice":false,"zero":false},"axis":{"orient":"bottom","values":[110,111,112,113,114,115,116,117,118,119,120,121,122,123,124,125,126,127,128,129,130,131,132,133,134,135],"labelExpr":"datum.value % 5 === 0 && datum.value <= 130 ? datum.label : ''","tickSize":{"condition":{"test":"datum.value % 5 === 0","value":11},"value":6},"labelFontSize":18,"labelPadding":2,"labelFlush":false,"labelOverlap":false,"title":null}},
     "y":{"datum":0.5,"type":"quantitative","scale":{"domain":[0,1]},"axis":null},"text":{"field":"label"}}},
   {"data":{"values":[{"name":"-//-"}]},"mark":{"type":"text","fontSize":12,"baseline":"middle","align":"center"},
    "encoding":{"x":{"datum":108,"type":"quantitative","scale":{"domain":[110,135],"nice":false,"zero":false},"axis":{"orient":"bottom","values":[110,111,112,113,114,115,116,117,118,119,120,121,122,123,124,125,126,127,128,129,130,131,132,133,134,135],"labelExpr":"datum.value % 5 === 0 && datum.value <= 130 ? datum.label : ''","tickSize":{"condition":{"test":"datum.value % 5 === 0","value":11},"value":6},"labelFontSize":18,"labelPadding":2,"labelFlush":false,"labelOverlap":false,"title":null}},
     "y":{"datum":-0.05,"type":"quantitative","scale":{"domain":[0,1]},"axis":null},"text":{"field":"name"}}}
  ]},
 {"width":619,"height":26,
  "layer":[
   {"data":{"name":"mis"},"transform":[{"filter":"datum.panel === 'c' && datum.kind === 'stage'"}],"mark":{"type":"rect","color":"#c8c8c8"},
    "encoding":{"x":{"field":"age","type":"quantitative","scale":{"domain":[190,245],"nice":false,"zero":false},"axis":{"orient":"bottom","values":[190,191,192,193,194,195,196,197,198,199,200,201,202,203,204,205,206,207,208,209,210,211,212,213,214,215,216,217,218,219,220,221,222,223,224,225,226,227,228,229,230,231,232,233,234,235,236,237,238,239,240,241,242,243,244,245],"labelExpr":"datum.value % 5 === 0 ? datum.label : ''","tickSize":{"condition":{"test":"datum.value % 5 === 0","value":11},"value":6},"labelFontSize":18,"labelPadding":2,"labelFlush":false,"labelOverlap":false,"title":null}},
     "x2":{"field":"end"},"y":{"datum":0,"type":"quantitative","scale":{"domain":[0,1]},"axis":{"orient":"right","labels":false,"ticks":false,"title":null}},"y2":{"datum":1}}},
   {"data":{"name":"mis"},"transform":[{"filter":"datum.panel === 'c' && datum.kind === 'hatch'"}],"mark":{"type":"rule","color":"#c4c4c4","strokeWidth":26,"strokeDash":[1.3,2.9]},
    "encoding":{"x":{"field":"age","type":"quantitative","scale":{"domain":[190,245],"nice":false,"zero":false},"axis":{"orient":"bottom","values":[190,191,192,193,194,195,196,197,198,199,200,201,202,203,204,205,206,207,208,209,210,211,212,213,214,215,216,217,218,219,220,221,222,223,224,225,226,227,228,229,230,231,232,233,234,235,236,237,238,239,240,241,242,243,244,245],"labelExpr":"datum.value % 5 === 0 ? datum.label : ''","tickSize":{"condition":{"test":"datum.value % 5 === 0","value":11},"value":6},"labelFontSize":18,"labelPadding":2,"labelFlush":false,"labelOverlap":false,"title":null}},
     "x2":{"field":"end"},"y":{"datum":0.5,"type":"quantitative","scale":{"domain":[0,1]},"axis":{"orient":"right","labels":false,"ticks":false,"title":null}}}},
   {"data":{"name":"mis"},"transform":[{"filter":"datum.panel === 'c' && datum.label !== ''"}],"mark":{"type":"text","fontSize":14,"baseline":"middle","align":"center","color":"#222"},
    "encoding":{"x":{"field":"mid","type":"quantitative","scale":{"domain":[190,245],"nice":false,"zero":false},"axis":{"orient":"bottom","values":[190,191,192,193,194,195,196,197,198,199,200,201,202,203,204,205,206,207,208,209,210,211,212,213,214,215,216,217,218,219,220,221,222,223,224,225,226,227,228,229,230,231,232,233,234,235,236,237,238,239,240,241,242,243,244,245],"labelExpr":"datum.value % 5 === 0 ? datum.label : ''","tickSize":{"condition":{"test":"datum.value % 5 === 0","value":11},"value":6},"labelFontSize":18,"labelPadding":2,"labelFlush":false,"labelOverlap":false,"title":null}},
     "y":{"datum":0.5,"type":"quantitative","scale":{"domain":[0,1]},"axis":{"orient":"right","labels":false,"ticks":false,"title":null}},"text":{"field":"label"}}},
   {"data":{"values":[{"name":"-//-"}]},"mark":{"type":"text","fontSize":12,"baseline":"middle","align":"center"},
    "encoding":{"x":{"datum":188,"type":"quantitative","scale":{"domain":[190,245],"nice":false,"zero":false},"axis":{"orient":"bottom","values":[190,191,192,193,194,195,196,197,198,199,200,201,202,203,204,205,206,207,208,209,210,211,212,213,214,215,216,217,218,219,220,221,222,223,224,225,226,227,228,229,230,231,232,233,234,235,236,237,238,239,240,241,242,243,244,245],"labelExpr":"datum.value % 5 === 0 ? datum.label : ''","tickSize":{"condition":{"test":"datum.value % 5 === 0","value":11},"value":6},"labelFontSize":18,"labelPadding":2,"labelFlush":false,"labelOverlap":false,"title":null}},
     "y":{"datum":-0.05,"type":"quantitative","scale":{"domain":[0,1]},"axis":{"orient":"right","labels":false,"ticks":false,"title":null}},"text":{"field":"name"}}}
  ]}
]
}
